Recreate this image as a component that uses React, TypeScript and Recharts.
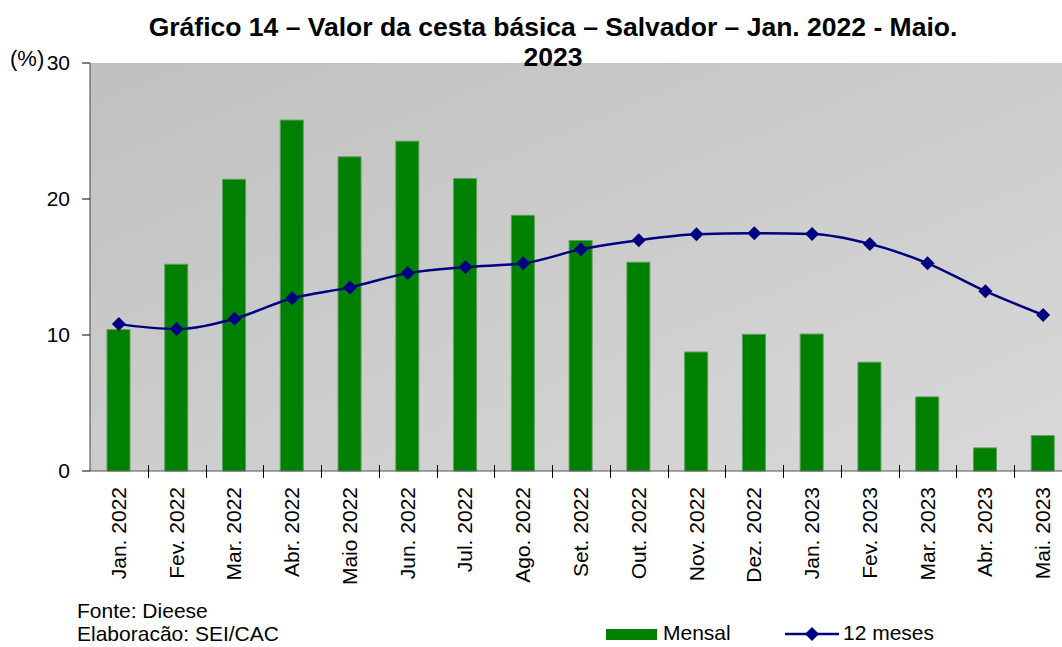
import { ComposedChart, Bar, Line, XAxis, YAxis, CartesianGrid } from 'recharts';

const MONTHS = [
  'Jan. 2022', 'Fev. 2022', 'Mar. 2022', 'Abr. 2022', 'Maio 2022', 'Jun. 2022',
  'Jul. 2022', 'Ago. 2022', 'Set. 2022', 'Out. 2022', 'Nov. 2022', 'Dez. 2022',
  'Jan. 2023', 'Fev. 2023', 'Mar. 2023', 'Abr. 2023', 'Mai. 2023',
];
const MENSAL = [10.4, 15.2, 21.45, 25.8, 23.1, 24.25, 21.5, 18.8, 16.95, 15.35, 8.75, 10.05, 10.07, 8.0, 5.45, 1.7, 2.6];
const DOZE_MESES = [10.8, 10.44, 11.2, 12.7, 13.5, 14.55, 15.0, 15.27, 16.3, 16.97, 17.4, 17.48, 17.43, 16.7, 15.27, 13.22, 11.47];
const Y_TICKS = [0, 10, 20, 30];

const data = MONTHS.map((m, i) => ({ month: m, mensal: MENSAL[i], doze: DOZE_MESES[i] }));

const FONT = 'Arial, "Liberation Sans", sans-serif';

function Diamond(props: any) {
  const { cx, cy } = props;
  if (cx == null || cy == null) return null;
  const r = 7;
  return (
    <polygon
      points={`${cx},${cy - r} ${cx + r},${cy} ${cx},${cy + r} ${cx - r},${cy}`}
      fill="#000080"
    />
  );
}

function MonthTick(props: any) {
  const { x, y, payload } = props;
  return (
    <text
      x={0}
      y={0}
      transform={`translate(${x + 7},${y + 8}) rotate(-90)`}
      textAnchor="end"
      fontSize={21}
      fontFamily={FONT}
      fill="#000"
    >
      {payload.value}
    </text>
  );
}

export default function App() {
  return (
    <div style={{ position: 'absolute', left: 0, top: 0, width: 1062, height: 647, overflow: 'hidden', background: '#fff', fontFamily: FONT }}>
      <div style={{ position: 'absolute', left: 0, width: 1106, top: 12, textAlign: 'center', fontWeight: 'bold', fontSize: 26.5, lineHeight: '30px', color: '#000', zIndex: 2 }}>
        Gráfico 14 – Valor da cesta básica – Salvador – Jan. 2022 - Maio.
        <br />
        2023
      </div>
      <div style={{ position: 'absolute', left: 10, top: 46, fontSize: 22, color: '#000' }}>(%)</div>

      <ComposedChart width={1072} height={647} data={data} margin={{ top: 63, right: 0, bottom: 0, left: 0 }}>
        <defs>
          <linearGradient id="plotBg" x1="0" y1="0" x2="1" y2="1">
            <stop offset="0%" stopColor="#c0c0c0" />
            <stop offset="100%" stopColor="#d9d9d9" />
          </linearGradient>
        </defs>
        <CartesianGrid horizontal={false} vertical={false} fill="url(#plotBg)" />
        <XAxis
          dataKey="month"
          height={176}
          interval={0}
          tick={<MonthTick />}
          tickLine={false}
          axisLine={{ stroke: '#555' }}
        />
        <YAxis
          width={90}
          domain={[0, 30]}
          ticks={Y_TICKS}
          tickSize={8}
          tickMargin={12}
          axisLine={{ stroke: '#444' }}
          tickLine={{ stroke: '#000' }}
          tick={{ fontSize: 21, fill: '#000', fontFamily: FONT }}
        />
        <Bar dataKey="mensal" barSize={23} fill="#008000" stroke="#5c9e5c" strokeWidth={1} isAnimationActive={false} />
        <Line
          dataKey="doze"
          type="monotone"
          stroke="#000080"
          strokeWidth={2.5}
          dot={<Diamond />}
          activeDot={false}
          isAnimationActive={false}
        />
      </ComposedChart>

      {MONTHS.slice(1).map((m, i) => (
        <div key={m} style={{ position: 'absolute', left: 90 + (i + 1) * 57.75, top: 465, width: 1, height: 13, background: '#000' }} />
      ))}

      <div style={{ position: 'absolute', left: 77, top: 599, fontSize: 21, lineHeight: '23px', color: '#000' }}>
        Fonte: Dieese
        <br />
        Elaboracão: SEI/CAC
      </div>

      <div style={{ position: 'absolute', left: 606, top: 629, width: 51, height: 11, background: '#008000' }} />
      <div style={{ position: 'absolute', left: 663, top: 621, fontSize: 21, color: '#000' }}>Mensal</div>
      <svg style={{ position: 'absolute', left: 785, top: 626 }} width={54} height={16}>
        <line x1={0} y1={8} x2={54} y2={8} stroke="#000080" strokeWidth={2.5} />
        <polygon points="27,1 34,8 27,15 20,8" fill="#000080" />
      </svg>
      <div style={{ position: 'absolute', left: 843, top: 621, fontSize: 21, color: '#000' }}>12 meses</div>
    </div>
  );
}
